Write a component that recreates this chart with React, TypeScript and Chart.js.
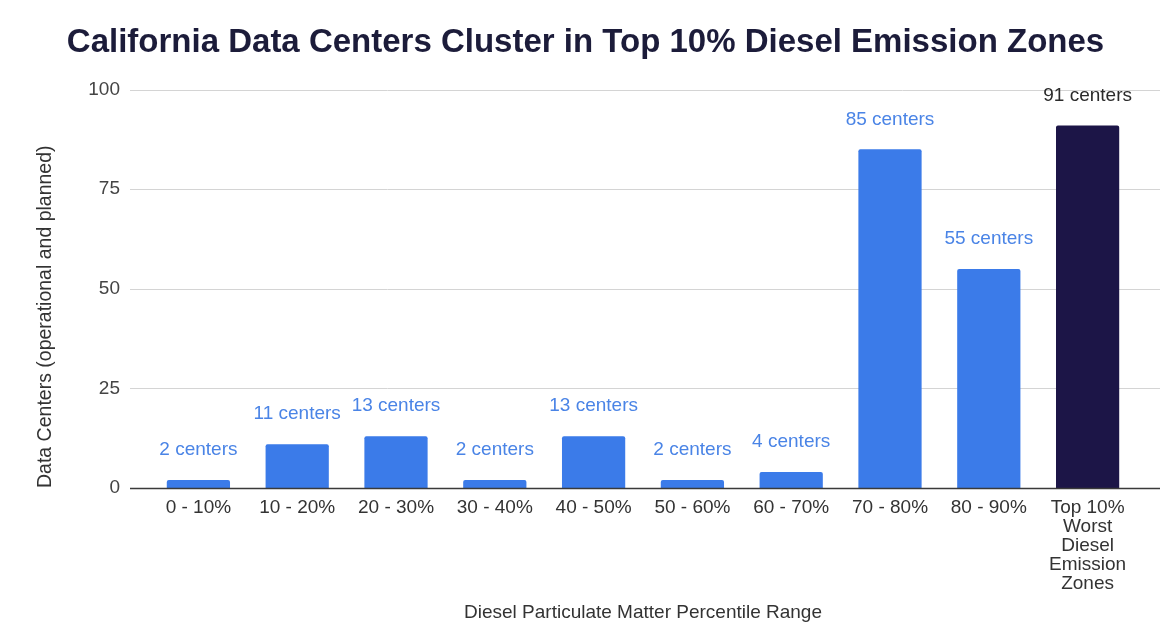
import React, { useEffect, useRef } from "react";
import { Chart, registerables } from "chart.js";

Chart.register(...registerables);

// ---- Data ----
const categories: (string | string[])[] = [
  "0 - 10%",
  "10 - 20%",
  "20 - 30%",
  "30 - 40%",
  "40 - 50%",
  "50 - 60%",
  "60 - 70%",
  "70 - 80%",
  "80 - 90%",
  ["Top 10%", "Worst", "Diesel", "Emission", "Zones"],
];
const centerCounts = [2, 11, 13, 2, 13, 2, 4, 85, 55, 91];
const valueLabels = [
  "2 centers",
  "11 centers",
  "13 centers",
  "2 centers",
  "13 centers",
  "2 centers",
  "4 centers",
  "85 centers",
  "55 centers",
  "91 centers",
];
const yTickValues = [0, 25, 50, 75, 100];

const chartTitle = "California Data Centers Cluster in Top 10% Diesel Emission Zones";
const xAxisTitle = "Diesel Particulate Matter Percentile Range";
const yAxisTitle = "Data Centers (operational and planned)";

const BLUE = "#3b7be9";
const NAVY = "#1c1547";
const barColors = centerCounts.map((_, i) => (i === centerCounts.length - 1 ? NAVY : BLUE));
const labelColors = centerCounts.map((_, i) => (i === centerCounts.length - 1 ? "#2a2a2a" : "#4a84e6"));

const FONT = "'Liberation Sans', Arial, Helvetica, sans-serif";

const extGridPlugin = {
  id: "extGrid",
  beforeDatasetsDraw(chart: any) {
    const { ctx, chartArea, scales } = chart;
    const y = scales.y;
    ctx.save();
    ctx.lineWidth = 1;
    yTickValues.forEach((v) => {
      if (v === 0) return;
      const py = Math.round(y.getPixelForValue(v)) + 0.5;
      ctx.strokeStyle = "#d4d4d4";
      ctx.beginPath();
      ctx.moveTo(chartArea.left - 19, py);
      ctx.lineTo(chartArea.right + 23, py);
      ctx.stroke();
    });
    ctx.restore();
  },
  afterDatasetsDraw(chart: any) {
    const { ctx, chartArea, scales } = chart;
    const y = scales.y;
    ctx.save();
    const py = Math.round(y.getPixelForValue(0)) + 0.5;
    ctx.strokeStyle = "#3a3a3a";
    ctx.lineWidth = 1.3;
    ctx.beginPath();
    ctx.moveTo(chartArea.left - 19, py);
    ctx.lineTo(chartArea.right + 23, py);
    ctx.stroke();

    // value labels
    const meta = chart.getDatasetMeta(0);
    ctx.font = `19px ${FONT}`;
    ctx.textAlign = "center";
    ctx.textBaseline = "middle";
    meta.data.forEach((bar: any, i: number) => {
      ctx.fillStyle = labelColors[i];
      ctx.fillText(valueLabels[i], bar.x, bar.y - 30);
    });
    ctx.restore();
  },
};

export default function App() {
  const canvasRef = useRef<HTMLCanvasElement | null>(null);

  useEffect(() => {
    document.body.style.margin = "0";
    document.body.style.background = "#ffffff";
    const canvas = canvasRef.current;
    if (!canvas) return;
    Chart.defaults.font.family = FONT;

    const chart = new Chart(canvas, {
      type: "bar",
      data: {
        labels: categories,
        datasets: [
          {
            data: centerCounts,
            backgroundColor: barColors,
            borderWidth: 0,
            borderRadius: 2,
            categoryPercentage: 1,
            barPercentage: 0.64,
          },
        ],
      },
      options: {
        responsive: false,
        animation: false,
        devicePixelRatio: 1,
        layout: { padding: 0 },
        plugins: {
          legend: { display: false },
          tooltip: { enabled: false },
          title: {
            display: true,
            text: chartTitle,
            color: "#1c1c3a",
            font: { size: 33, weight: "bold", family: FONT, lineHeight: 1.2 },
            padding: { top: 23, bottom: 27 },
          },
        },
        scales: {
          x: {
            grid: { display: false, drawTicks: false },
            border: { display: false },
            ticks: {
              color: "#333333",
              font: { size: 19, family: FONT, lineHeight: 1.0 },
              padding: 10,
              maxRotation: 0,
              autoSkip: false,
            },
            title: {
              display: true,
              text: xAxisTitle,
              color: "#333333",
              font: { size: 19, family: FONT, lineHeight: 1.2 },
              padding: { top: 0, bottom: 4 },
            },
            afterFit(scale: any) {
              scale.height = 140;
            },
          },
          y: {
            min: 0,
            max: 100,
            grid: { display: false, drawTicks: false },
            border: { display: false },
            ticks: {
              stepSize: 25,
              color: "#444444",
              font: { size: 19, family: FONT },
              padding: 29,
            },
            title: {
              display: true,
              text: yAxisTitle,
              align: "start",
              color: "#333333",
              font: { size: 19.5, family: FONT, lineHeight: 1.2 },
              padding: { top: 34, bottom: 0 },
            },
            afterFit(scale: any) {
              scale.width = 149;
            },
          },
          yRight: {
            position: "right",
            display: true,
            grid: { display: false, drawTicks: false },
            border: { display: false },
            ticks: { display: false },
            afterFit(scale: any) {
              scale.width = 34;
            },
          },
        },
      } as any,
      plugins: [extGridPlugin],
    });

    return () => {
      chart.destroy();
    };
  }, []);

  return (
    <div style={{ width: 1171, height: 628, background: "#fff" }}>
      <canvas ref={canvasRef} width={1171} height={628} style={{ display: "block" }} />
    </div>
  );
}
